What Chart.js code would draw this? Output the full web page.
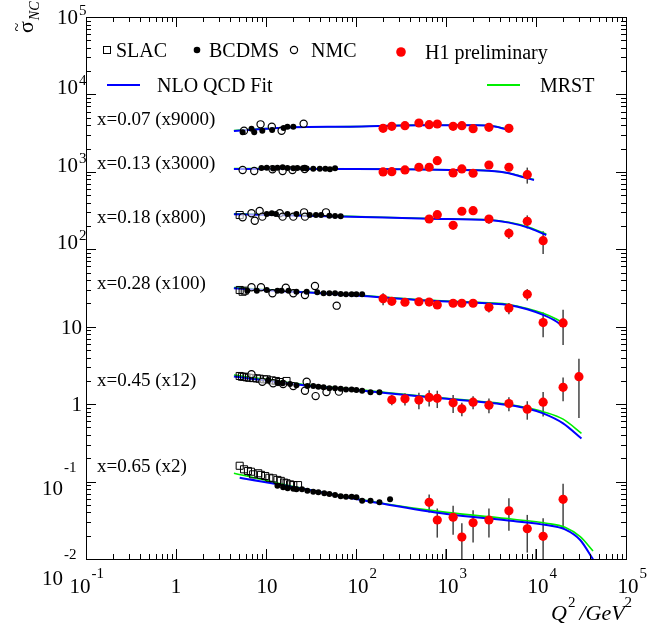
<!DOCTYPE html>
<html>
<head>
<meta charset="utf-8">
<script src="https://cdn.jsdelivr.net/npm/chart.js@4.4.1/dist/chart.umd.min.js"></script>
<style>
  html, body { margin: 0; padding: 0; background: #fff; }
  #wrap { width: 649px; height: 627px; }
</style>
</head>
<body>
<div id="wrap"><canvas id="chart" width="649" height="627"></canvas></div>
<script>
// --- DATA (values as plotted, already multiplied by the bin factor) ---
const binLabels = ['x=0.07 (x9000)', 'x=0.13 (x3000)', 'x=0.18 (x800)', 'x=0.28 (x100)', 'x=0.45 (x12)', 'x=0.65 (x2)'];

// SLAC [Q2, value]
const slac3 = [[5.1, 277]];
const slac4 = [[5.1, 29.8], [5.5, 28.3], [5.8, 29.2]];
const slac5 = [[5.1, 2.31], [5.4, 2.26], [5.7, 2.26], [6.1, 2.22], [6.5, 2.19], [7.2, 2.17], [7.9, 2.15], [8.5, 2.13], [9.5, 2.09], [10.2, 2.09], [11.6, 2.03], [12.9, 1.99], [14.2, 1.93], [16.9, 1.99]];
const slac6 = [[5.1, 0.160], [5.7, 0.144], [6.3, 0.137], [6.8, 0.134], [7.2, 0.124], [8.2, 0.128], [8.8, 0.122], [9.8, 0.118], [10.9, 0.112], [12.0, 0.110], [13.4, 0.105], [14.6, 0.102], [15.9, 0.097], [16.9, 0.095], [18.5, 0.092], [20.1, 0.090], [22.7, 0.090]];

// BCDMS [Q2, value]
const bcdms1 = [[5.5, 3240], [6.9, 3606], [7.4, 3240], [9.1, 3398], [11.7, 3468], [15.7, 3683], [17.3, 3828], [20.1, 3828]];
const bcdms2 = [[8.9, 1124], [10.2, 1133], [12.0, 1106], [13.4, 1133], [15.3, 1150], [17.3, 1120], [20.1, 1110], [22.3, 1125], [25.7, 1115], [28.3, 1105], [33.5, 1100], [39.6, 1100], [45.7, 1095], [51.3, 1080], [58.5, 1110]];
const bcdms3 = [[10.2, 286], [11.6, 292], [12.9, 286], [17.3, 286], [21.8, 286], [30.6, 277], [35.9, 277], [40.9, 277], [50.6, 272], [58.5, 269], [67.6, 267]];
const bcdms4 = [[6.2, 29.2], [7.9, 29.2], [10.2, 29.8], [13.4, 29.2], [14.9, 29.2], [17.8, 29.2], [21.8, 28.3], [28.3, 28.3], [37.1, 27.8], [43.6, 27.0], [50.6, 27.0], [58.5, 27.0], [67.6, 26.4], [77.4, 26.2], [89.4, 26.2], [101, 26.2], [117, 26.2]];
const bcdms5 = [[10.6, 2.05], [13.4, 1.90], [15.3, 1.86], [18.5, 1.82], [21.8, 1.75], [28.8, 1.71], [33.5, 1.71], [38.2, 1.68], [43.6, 1.65], [50.6, 1.61], [58.5, 1.61], [67.6, 1.58], [77.4, 1.55], [89.4, 1.55], [101, 1.52], [117, 1.49], [145, 1.42], [182, 1.42]];
const bcdms6 = [[13.4, 0.0885], [15.5, 0.0844], [17.4, 0.0819], [20.1, 0.081], [21.8, 0.0796], [25.1, 0.0796], [28.8, 0.0763], [33.5, 0.0741], [38.2, 0.0728], [44.4, 0.0706], [50.6, 0.0692], [58.5, 0.0671], [67.6, 0.0646], [77.4, 0.0638], [89.4, 0.0638], [101, 0.0627], [117, 0.0567], [145, 0.0567], [182, 0.0541], [239, 0.0591]];

// NMC [Q2, value]
const nmc1 = [[5.7, 3398], [8.7, 4110], [11.6, 3828], [14.9, 3398], [26.2, 4185]];
const nmc2 = [[5.5, 1058], [7.4, 1028], [11.8, 1080], [15.3, 1028], [19.7, 1058], [26.9, 1090]];
const nmc3 = [[5.5, 259], [6.9, 292], [7.5, 234], [8.5, 312], [9.1, 264], [14.2, 292], [15.3, 264], [20.1, 264], [26.5, 300], [27.1, 264], [46.4, 300]];
const nmc4 = [[6.9, 32.3], [8.8, 32.3], [11.8, 27.0], [16.6, 31.9], [20.1, 27.0], [27.1, 25.7], [35.0, 33.5], [61.0, 18.7]];
const nmc5 = [[6.9, 2.43], [9.1, 1.95], [12.0, 1.86], [15.5, 1.82], [20.1, 1.71], [27.1, 1.49], [28.3, 1.95], [35.6, 1.27], [47.0, 1.43], [64.6, 1.45]];

// H1 preliminary: common Q2 grid, null where a bin has no point
const h1Q2 = [200, 250, 350, 500, 650, 800, 1000, 1200, 1500, 2000, 3000, 5000, 8000, 10000, 12000, 20000, 30000];
const h1Bin1 = [3652, 3875, 3945, 4276, 4064, 4150, null, 3875, 3945, 3608, 3763, 3652, null, null, null, null, null];
const h1Err1 = [100, 100, 100, 110, 110, 110, null, 110, 120, 130, 180, 330, null, null, null, null, null];
const h1Bin2 = [997, 1006, 1058, 1146, 1146, 1395, null, 968, 1090, 959, 1227, 1146, 920, null, null, null, null];
const h1Err2 = [30, 30, 35, 40, 45, 50, null, 80, 60, 70, 120, 100, 215, null, null, null, null];
const h1Bin3 = [null, null, null, null, 246, 280, null, 204, 310, 315, 246, 161, 230, null, 129, null, null];
const h1Err3 = [null, null, null, null, 15, 18, null, 16, 20, 22, 32, 25, 44, null, 42, null, null];
const h1Bin4 = [23.0, 21.3, 20.7, 21.0, 20.8, 19.1, null, 20.1, 20.1, 20.1, 17.8, 17.4, 26.2, null, 11.3, 11.2, null];
const h1Err4 = [4.0, 1.6, 1.4, 1.5, 2.3, 2.0, null, 1.8, 1.8, 1.9, 2.5, 2.9, 4.4, null, 4.0, 5.4, null];
const h1Bin5 = [null, 1.14, 1.17, 1.13, 1.22, 1.19, null, 1.04, 0.87, 1.06, 0.97, 1.02, 0.86, null, 1.06, 1.65, 2.26];
const h1Err5 = [null, 0.17, 0.21, 0.27, 0.29, 0.30, null, 0.27, 0.17, 0.20, 0.21, 0.21, 0.23, null, 0.37, 0.56, 1.6];
const h1Bin6 = [null, null, null, null, 0.054, 0.0319, 0.006, 0.0346, 0.0192, 0.0294, 0.0319, 0.042, 0.0246, 0.006, 0.0196, 0.059, null];
const h1Err6 = [null, null, null, null, 0.014, 0.013, 0.0075, 0.014, 0.0097, 0.0131, 0.013, 0.0188, 0.0125, 0.0075, 0.0139, 0.0345, null];

// fit curves
const curveQ2_1 = [4.4, 10, 20, 86, 500, 2200, 3600, 5300];
const nlo1 = [3370, 3600, 3760, 3830, 4000, 3990, 3830, 3400];
const mrst1 = [3420, 3620, 3770, 3840, 4010, 4000, 3850, 3430];
const curveQ2_2 = [4.4, 100, 1100, 3000, 5000, 7300, 9500];
const nlo2 = [1090, 1090, 1060, 1030, 960, 850, 785];
const mrst2 = [1100, 1095, 1065, 1035, 965, 860, 795];
const curveQ2_3 = [4.4, 86, 650, 3000, 5000, 8000, 13000];
const nlo3 = [283, 264, 248, 239, 221, 192, 153];
const mrst3 = [288, 266, 250, 241, 224, 196, 158];
const curveQ2_4 = [4.4, 20, 120, 470, 3000, 5000, 8000, 12000, 17000, 20000];
const nlo4 = [31.3, 28.3, 25.0, 22.1, 20.0, 19.1, 16.8, 14.2, 11.6, 10.0];
const mrst4 = [32.0, 28.6, 25.3, 22.4, 20.3, 19.4, 17.2, 14.9, 12.5, 11.3];
const curveQ2_5 = [4.4, 28, 120, 470, 3000, 5000, 8000, 12000, 20000, 32000];
const nlo5 = [2.28, 1.74, 1.49, 1.27, 1.04, 0.97, 0.88, 0.76, 0.565, 0.36];
const mrst5 = [2.38, 1.78, 1.52, 1.29, 1.06, 0.99, 0.90, 0.80, 0.64, 0.42];
const curveQ2_6 = [5.1, 24, 66, 185, 1020, 5600, 13000, 21000, 31000, 43000];
const nlo6 = [0.112, 0.082, 0.0652, 0.0524, 0.0381, 0.031, 0.0275, 0.0242, 0.0176, 0.0099];
const mrstQ2_6 = [4.4, 24, 66, 185, 1020, 5600, 13000, 21000, 31000, 43000];
const mrst6 = [0.128, 0.083, 0.066, 0.053, 0.040, 0.0326, 0.029, 0.0257, 0.0194, 0.0127];

// axis decades
const xDecades = [-1, 0, 1, 2, 3, 4, 5];
const yDecades = [5, 4, 3, 2, 1, 0, -1, -2];

// --- BUILD DATASETS ---
const SERIF = '"Liberation Serif", "Times New Roman", serif';
const pts = arr => arr.map(p => ({ x: p[0], y: p[1] }));
const zip = (xs, ys) => xs.map((x, i) => ({ x: x, y: ys[i] })).filter(p => p.y !== null);

const slacBins = [null, null, slac3, slac4, slac5, slac6];
const bcdmsBins = [bcdms1, bcdms2, bcdms3, bcdms4, bcdms5, bcdms6];
const nmcBins = [nmc1, nmc2, nmc3, nmc4, nmc5, null];
const h1Bins = [h1Bin1, h1Bin2, h1Bin3, h1Bin4, h1Bin5, h1Bin6];
const h1Errs = [h1Err1, h1Err2, h1Err3, h1Err4, h1Err5, h1Err6];
const nloQ2 = [curveQ2_1, curveQ2_2, curveQ2_3, curveQ2_4, curveQ2_5, curveQ2_6];
const nloVals = [nlo1, nlo2, nlo3, nlo4, nlo5, nlo6];
const mrstQ2 = [curveQ2_1, curveQ2_2, curveQ2_3, curveQ2_4, curveQ2_5, mrstQ2_6];
const mrstVals = [mrst1, mrst2, mrst3, mrst4, mrst5, mrst6];

const datasets = [];
for (let b = 0; b < 6; b++) {
    datasets.push({
        data: zip(mrstQ2[b], mrstVals[b]), showLine: true, borderColor: '#00ee00', borderWidth: 1.6,
        pointRadius: 0, cubicInterpolationMode: 'monotone', order: 5
    });
    datasets.push({
        data: zip(nloQ2[b], nloVals[b]), showLine: true, borderColor: '#0000ff', borderWidth: 2,
        pointRadius: 0, cubicInterpolationMode: 'monotone', order: 4
    });
    if (slacBins[b]) datasets.push({
        data: pts(slacBins[b]), pointStyle: 'rect', pointRadius: 5, pointBorderWidth: 1,
        pointBorderColor: '#000', pointBackgroundColor: 'rgba(0,0,0,0)', order: 3
    });
    if (nmcBins[b]) datasets.push({
        data: pts(nmcBins[b]), pointStyle: 'circle', pointRadius: 3.6, pointBorderWidth: 1.2,
        pointBorderColor: '#000', pointBackgroundColor: 'rgba(255,255,255,0.6)', order: 2
    });
    datasets.push({
        data: pts(bcdmsBins[b]), pointStyle: 'circle', pointRadius: 3, pointBorderWidth: 0,
        pointBackgroundColor: '#000', order: 1
    });
    datasets.push({
        data: zip(h1Q2, h1Bins[b]), errs: h1Errs[b].filter((e, i) => h1Bins[b][i] !== null),
        pointStyle: 'circle', pointRadius: 4.6, pointBorderWidth: 0,
        pointBackgroundColor: '#ff0000', order: 0
    });
}

// --- ROOT STYLE FRAME, TICKS, LABELS, LEGEND ---
function sup(ctx, base, exp, x, y, baseFont, expFont, rise) {
    ctx.font = baseFont;
    const wb = ctx.measureText(base).width;
    ctx.fillText(base, x, y);
    ctx.font = expFont;
    ctx.fillText(exp, x + wb + 1, y - rise);
}

const rootStyle = {
    id: 'rootStyle',
    beforeDatasetsDraw(chart) {
        const { ctx, chartArea: a, scales: { x, y } } = chart;
        ctx.save();
        ctx.beginPath();
        ctx.rect(a.left, a.top, a.right - a.left, a.bottom - a.top);
        ctx.clip();
        ctx.strokeStyle = '#444';
        ctx.lineWidth = 1.5;
        chart.data.datasets.forEach(ds => {
            if (!ds.errs) return;
            ds.data.forEach((p, i) => {
                const e = ds.errs[i];
                if (!e) return;
                const px = x.getPixelForValue(p.x);
                const y1 = y.getPixelForValue(p.y + e);
                const lo = p.y - e;
                const y2 = lo > 0 ? y.getPixelForValue(lo) : a.bottom + 5;
                ctx.beginPath();
                ctx.moveTo(px, y1);
                ctx.lineTo(px, y2);
                ctx.stroke();
            });
        });
        ctx.restore();
    },
    afterDraw(chart) {
        const { ctx, chartArea: a, scales: { x, y } } = chart;
        ctx.save();
        ctx.strokeStyle = '#000';
        ctx.fillStyle = '#000';
        ctx.lineWidth = 1;

        // frame
        ctx.strokeRect(Math.round(a.left) + 0.5, Math.round(a.top) + 0.5,
            Math.round(a.right - a.left), Math.round(a.bottom - a.top));

        // ticks
        const tick = (x1, y1, x2, y2) => { ctx.beginPath(); ctx.moveTo(x1, y1); ctx.lineTo(x2, y2); ctx.stroke(); };
        xDecades.forEach(d => {
            for (let k = 1; k <= 9; k++) {
                const v = k * Math.pow(10, d);
                if (v > 1e5 * 1.0001) break;
                const px = Math.round(x.getPixelForValue(v)) + 0.5;
                const len = k === 1 ? 10 : 5;
                tick(px, a.bottom, px, a.bottom - len);
                tick(px, a.top, px, a.top + len);
            }
        });
        yDecades.forEach(d => {
            for (let k = 1; k <= 9; k++) {
                const v = k * Math.pow(10, d);
                if (v > 1e5 * 1.0001) break;
                const py = Math.round(y.getPixelForValue(v)) + 0.5;
                const len = k === 1 ? 10 : 5;
                tick(a.left, py, a.left + len, py);
                tick(a.right, py, a.right - len, py);
            }
        });

        // x tick labels
        const big = '21px ' + SERIF, small = '15px ' + SERIF;
        ctx.textBaseline = 'alphabetic';
        xDecades.forEach(d => {
            const px = x.getPixelForValue(Math.pow(10, d));
            ctx.font = big;
            if (d === 0 || d === 1) {
                ctx.textAlign = 'center';
                ctx.fillText(d === 0 ? '1' : '10', px + (d === 1 ? 1 : 0), 593);
                return;
            }
            ctx.textAlign = 'left';
            const w = ctx.measureText('10').width;
            const cx = px + (d < 0 ? -6 : 2);
            sup(ctx, '10', String(d), cx - w / 2, 593, big, small, 15);
        });

        // y tick labels
        ctx.textAlign = 'left';
        yDecades.forEach(d => {
            const py = y.getPixelForValue(Math.pow(10, d));
            ctx.font = big;
            if (d === 0 || d === 1) {
                const s = d === 0 ? '1' : '10';
                ctx.textAlign = 'right';
                ctx.fillText(s, 82, py + 7);
                ctx.textAlign = 'left';
                return;
            }
            const w = ctx.measureText('10').width;
            if (d > 0) {
                const dy = d === 5 ? 7 : 0;
                sup(ctx, '10', String(d), 78 - w, py + dy, big, small, 9);
            } else {
                const dy = d === -1 ? 13 : 26;
                const rise = d === -1 ? 23 : 26;
                sup(ctx, '10', String(d), 63 - w, py + dy, big, small, rise);
            }
        });

        // bin labels
        ctx.font = '19px ' + SERIF;
        ctx.textAlign = 'left';
        const binBase = [125, 169, 223, 289, 386, 472];
        binLabels.forEach((s, i) => ctx.fillText(s, 97, binBase[i]));

        // legend
        ctx.font = '20px ' + SERIF;
        ctx.lineWidth = 1;
        ctx.strokeRect(103.5, 46.5, 7, 7);
        ctx.fillText('SLAC', 116, 57);
        ctx.beginPath(); ctx.arc(197, 50, 3.3, 0, 2 * Math.PI); ctx.fill();
        ctx.fillText('BCDMS', 209, 57);
        ctx.lineWidth = 1.2;
        ctx.beginPath(); ctx.arc(294, 50, 3.6, 0, 2 * Math.PI); ctx.stroke();
        ctx.fillText('NMC', 311, 57);
        ctx.fillStyle = '#ff0000';
        ctx.beginPath(); ctx.arc(401, 52, 4.8, 0, 2 * Math.PI); ctx.fill();
        ctx.fillStyle = '#000';
        ctx.fillText('H1 preliminary', 425, 59);
        ctx.lineWidth = 2;
        ctx.strokeStyle = '#0000ff';
        tick(107, 85, 140, 85);
        ctx.fillText('NLO QCD Fit', 157, 92);
        ctx.strokeStyle = '#00ee00';
        tick(487, 85, 520, 85);
        ctx.fillText('MRST', 540, 92);

        // x title
        ctx.fillStyle = '#000';
        let tx = 551;
        ctx.font = 'italic 22px ' + SERIF;
        ctx.fillText('Q', tx, 620); tx += ctx.measureText('Q').width + 1;
        ctx.font = '15px ' + SERIF;
        ctx.fillText('2', tx, 607); tx += ctx.measureText('2').width + 4;
        ctx.font = 'italic 22px ' + SERIF;
        ctx.fillText('/GeV', tx, 620); tx += ctx.measureText('/GeV').width;
        ctx.font = '15px ' + SERIF;
        ctx.fillText('2', tx, 607);

        // y title
        ctx.translate(33, 33);
        ctx.rotate(-Math.PI / 2);
        ctx.font = '22px ' + SERIF;
        ctx.textAlign = 'left';
        ctx.fillText('σ', 0, 0);
        const ws = ctx.measureText('σ').width;
        ctx.font = '16px ' + SERIF;
        ctx.textAlign = 'center';
        ctx.fillText('~', ws / 2, -11);
        ctx.font = 'italic 14px ' + SERIF;
        ctx.textAlign = 'left';
        ctx.fillText('NC', ws + 1, 6);
        ctx.restore();
    }
};

new Chart(document.getElementById('chart'), {
    type: 'scatter',
    data: { datasets: datasets },
    options: {
        responsive: false,
        animation: false,
        layout: { padding: { left: 86, right: 23, top: 17, bottom: 68 } },
        plugins: { legend: { display: false }, tooltip: { enabled: false } },
        scales: {
            x: { type: 'logarithmic', min: 0.1, max: 1e5, display: false },
            y: { type: 'logarithmic', min: 0.01, max: 1e5, display: false }
        }
    },
    plugins: [rootStyle]
});
</script>
</body>
</html>
